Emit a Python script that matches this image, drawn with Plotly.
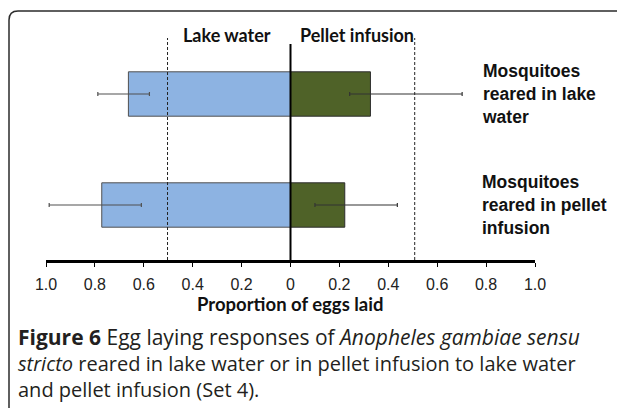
import plotly.graph_objects as go

W, H = 625, 408

# ---- data ----
groups = ["Mosquitoes<br>reared in lake<br>water", "Mosquitoes<br>reared in pellet<br>infusion"]
lake_mean = [-0.663, -0.772]          # drawn to the left (negative side)
lake_ci_low = [-0.788, -0.987]
lake_ci_high = [-0.577, -0.610]
pellet_mean = [0.327, 0.222]
pellet_ci_low = [0.242, 0.100]
pellet_ci_high = [0.702, 0.437]
tick_vals = [-1.0, -0.8, -0.6, -0.4, -0.2, 0, 0.2, 0.4, 0.6, 0.8, 1.0]
tick_text = ["1.0", "0.8", "0.6", "0.4", "0.2", "0", "0.2", "0.4", "0.6", "0.8", "1.0"]
ref_lines = [-0.503, 0.508]
side_headers = ["Lake water", "Pellet infusion"]
axis_title = "Proportion of eggs laid"
caption_lines = [
    "<b>Figure 6</b> Egg laying responses of <i>Anopheles gambiae sensu</i>",
    "<i>stricto</i> reared in lake water or in pellet infusion to lake water",
    "and pellet infusion (Set 4).",
]

# page is shown with an 8px body margin; map reference pixels to paper fractions
OFF = 8


def px(x):
    return (x - OFF) / W


def py(y):
    return 1 - (y - OFF) / H


ypos = list(range(len(groups)))

fig = go.Figure()
fig.add_trace(go.Bar(
    y=ypos, x=lake_mean, orientation="h", width=0.4,
    marker=dict(color="#8DB3E2", line=dict(color="#505050", width=1)),
    error_x=dict(type="data", symmetric=False,
                 array=[h - m for h, m in zip(lake_ci_high, lake_mean)],
                 arrayminus=[m - l for l, m in zip(lake_ci_low, lake_mean)],
                 color="#505050", thickness=1.2, width=2),
    showlegend=False, hoverinfo="skip"))
fig.add_trace(go.Bar(
    y=ypos, x=pellet_mean, orientation="h", width=0.4,
    marker=dict(color="#4F6228", line=dict(color="#2e2e2e", width=1)),
    error_x=dict(type="data", symmetric=False,
                 array=[h - m for h, m in zip(pellet_ci_high, pellet_mean)],
                 arrayminus=[m - l for l, m in zip(pellet_ci_low, pellet_mean)],
                 color="#333333", thickness=1.2, width=2),
    showlegend=False, hoverinfo="skip"))

plot_top, plot_bot = 38, 260
shapes = []
for v in ref_lines:
    shapes.append(dict(type="line", xref="x", yref="paper", x0=v, x1=v,
                       y0=py(plot_bot), y1=py(plot_top),
                       line=dict(color="#222", width=1, dash="3px,2px"), layer="above"))
shapes.append(dict(type="line", xref="x", yref="paper", x0=0, x1=0,
                   y0=py(plot_bot), y1=py(44),
                   line=dict(color="black", width=2), layer="above"))
# rounded frame around the figure (top-left corner visible)
shapes.append(dict(type="path", xref="paper", yref="paper",
                   path=(f"M {px(9)},{py(430)} L {px(9)},{py(20)} "
                         f"Q {px(9)},{py(11)} {px(18)},{py(11)} L {px(650)},{py(11)}"),
                   line=dict(color="#2b2b2b", width=1.5)))

hfont = dict(family="Lato", size=18, color="#111")
annotations = [
    dict(text=f"<b>{side_headers[0]}</b>", x=px(227), y=py(35), xanchor="center", yanchor="middle",
         showarrow=False, xref="paper", yref="paper", font=hfont),
    dict(text=f"<b>{side_headers[1]}</b>", x=px(357), y=py(35), xanchor="center", yanchor="middle",
         showarrow=False, xref="paper", yref="paper", font=hfont),
    dict(text=f"<b>{axis_title}</b>", x=px(290), y=py(304), xanchor="center", yanchor="middle",
         showarrow=False, xref="paper", yref="paper", font=dict(family="Lato", size=18.5, color="#111")),
]
for line, yy, fs in zip(caption_lines, [337, 363, 389], [21, 20, 20]):
    annotations.append(dict(text=line, x=px(16), y=py(yy), xanchor="left", yanchor="middle",
                            showarrow=False, xref="paper", yref="paper",
                            font=dict(family="Open Sans", size=fs, color="#231F20")))
for i, g in enumerate(groups):
    annotations.append(dict(text=f"<b>{g}</b>", x=px(480), y=i, xref="paper", yref="y",
                            xanchor="left", yanchor="middle", showarrow=False, align="left",
                            font=dict(family="Liberation Sans", size=17.5, color="#111")))

# rows: centre of row 0 at 94px, row 1 at 205px
unit = 205 - 94
y_top = -(94 - plot_top) / unit
y_bot = 1 + (plot_bot - 205) / unit

fig.update_layout(
    width=W, height=H, margin=dict(l=0, r=0, t=0, b=0, autoexpand=False),
    paper_bgcolor="white", plot_bgcolor="white",
    barmode="overlay", shapes=shapes, annotations=annotations,
    xaxis=dict(domain=[px(46), px(535)], range=[-1, 1], tickvals=tick_vals, ticktext=tick_text,
               showgrid=False, zeroline=False, showline=True, linecolor="black", linewidth=2.5,
               ticks="outside", ticklen=4, tickwidth=1, tickcolor="black", automargin=False,
               ticklabelstandoff=4,
               tickfont=dict(family="Liberation Sans", size=16, color="#222"), anchor="y"),
    yaxis=dict(domain=[py(plot_bot), py(plot_top)], range=[y_bot, y_top], visible=False),
)

fig.write_html("out.html")
